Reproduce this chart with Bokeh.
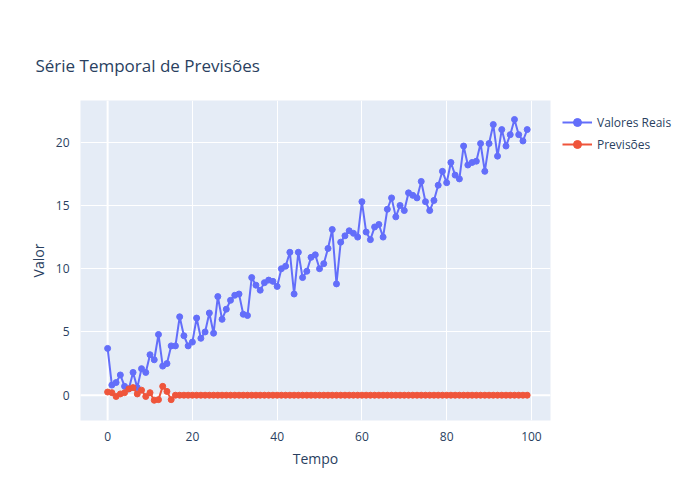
from bokeh.plotting import figure
from bokeh.models import Legend, Range1d
from bokeh.embed import file_html
from bokeh.resources import INLINE

tempo = list(range(100))
valores_reais = [3.7,0.8,1.0,1.6,0.7,0.5,1.8,0.6,2.1,1.8,3.2,2.8,4.8,2.3,2.5,3.9,3.9,6.2,4.7,3.9,
    4.2,6.1,4.5,5.0,6.5,4.9,7.8,6.0,6.8,7.5,7.9,8.0,6.4,6.3,9.3,8.7,8.3,8.9,9.1,9.0,
    8.6,10.0,10.2,11.3,8.0,11.3,9.3,9.8,10.9,11.1,10.0,10.4,11.6,13.1,8.8,12.1,12.6,13.0,12.8,12.5,
    15.3,12.9,12.3,13.3,13.5,12.5,14.7,15.6,14.1,15.0,14.6,16.0,15.8,15.6,16.9,15.3,14.6,15.4,16.6,17.7,
    16.8,18.4,17.4,17.1,19.7,18.2,18.4,18.5,19.9,17.7,19.9,21.4,18.9,21.0,19.7,20.6,21.8,20.6,20.1,21.0]
previsoes = [0.25,0.2,-0.1,0.1,0.2,0.5,0.6,0.1,0.4,-0.1,0.2,-0.4,-0.35,0.7,0.3,-0.35,0.0] + [0.0]*83

FONT = "Open Sans"
p = figure(width=684, height=484, output_backend="svg", toolbar_location=None,
           frame_width=470, frame_height=320, min_border_left=80, min_border_top=100,
           min_border_bottom=64, min_border_right=10,
           x_range=Range1d(-6.4, 104.5), y_range=Range1d(-2.0, 23.3),
           title="Série Temporal de Previsões")
p.title.text_font = FONT
p.title.text_font_size = "17px"
p.title.text_font_style = "normal"
p.title.text_color = "#2a3f5f"
p.title.offset = -45
p.title.standoff = 47
p.background_fill_color = "#E5ECF6"
p.border_fill_color = "white"
p.outline_line_color = None
for ax in (p.xaxis, p.yaxis):
    ax.axis_line_color = None
    ax.major_tick_line_color = None
    ax.minor_tick_line_color = None
    ax.major_label_text_font = FONT
    ax.major_label_text_font_size = "12px"
    ax.major_label_text_color = "#2a3f5f"
    ax.axis_label_text_font = FONT
    ax.axis_label_text_font_size = "14px"
    ax.axis_label_text_font_style = "normal"
    ax.axis_label_text_color = "#2a3f5f"
p.xaxis.axis_label = "Tempo"
p.yaxis.axis_label = "Valor"
p.xaxis.ticker = [0, 20, 40, 60, 80, 100]
p.yaxis.ticker = [0, 5, 10, 15, 20]
p.grid.grid_line_color = "white"
p.grid.grid_line_width = 1

l1 = p.line(tempo, valores_reais, line_color="#636EFA", line_width=2)
s1 = p.scatter(tempo, valores_reais, size=6, fill_color="#636EFA", line_color="#636EFA")
l2 = p.line(tempo, previsoes, line_color="#EF553B", line_width=2)
s2 = p.scatter(tempo, previsoes, size=6, fill_color="#EF553B", line_color="#EF553B")
p.line([0, 0], [-2, 23.3], line_color="white", line_width=2, level="underlay")
p.line([-6.4, 104.5], [0, 0], line_color="white", line_width=2, level="underlay")

legend = Legend(items=[("Valores Reais", [l1, s1]), ("Previsões", [l2, s2])],
                location="top_left", label_text_font=FONT, label_text_font_size="12px",
                label_text_color="#2a3f5f", border_line_color=None,
                glyph_width=30, spacing=2, padding=2, margin=12)
p.add_layout(legend, "right")

open("out.html", "w").write(file_html(p, INLINE))
